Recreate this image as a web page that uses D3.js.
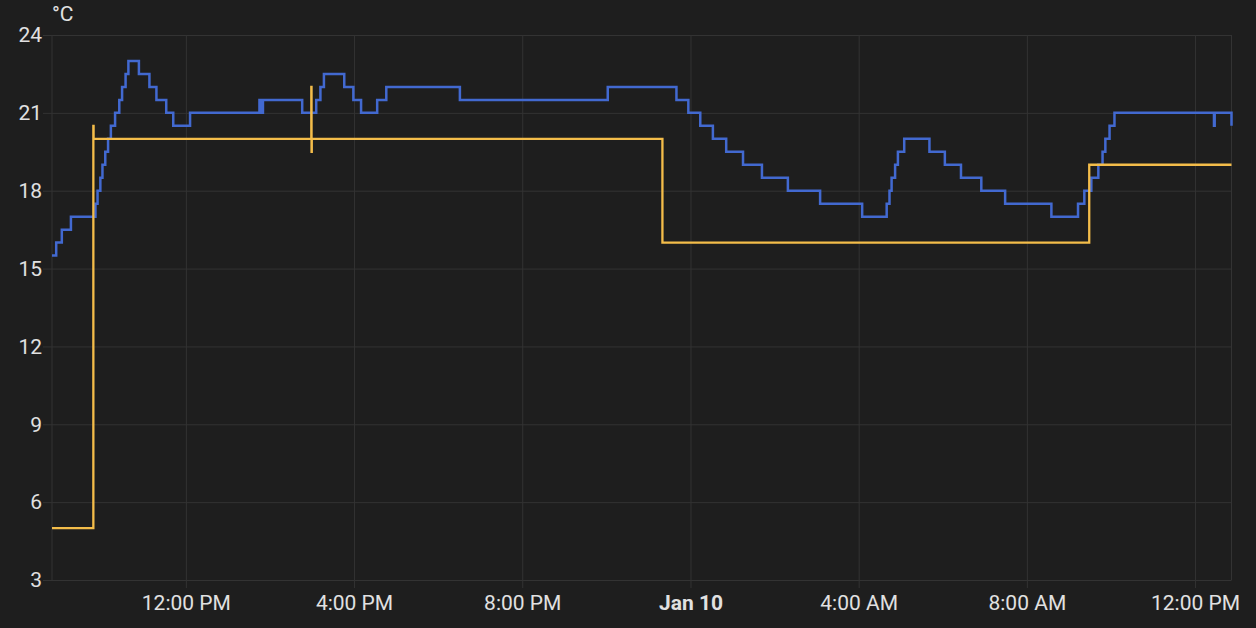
<!DOCTYPE html>
<html>
<head>
<meta charset="utf-8">
<script src="https://cdn.jsdelivr.net/npm/d3@7/dist/d3.min.js"></script>
<style>
  html, body { margin: 0; padding: 0; background: #1e1e1e; }
  svg { display: block; }
  text { font-family: Roboto, "Noto Sans", sans-serif; }
</style>
</head>
<body>
<svg id="chart" width="1256" height="628"></svg>
<script>
// ---- data ----
const unitLabel = "°C";
const domainStart = "2024-01-09 08:49";
const domainEnd = "2024-01-10 12:52";
const yTicks = [3, 6, 9, 12, 15, 18, 21, 24];
const xTickTimes = ["2024-01-09 12:00", "2024-01-09 16:00", "2024-01-09 20:00",
  "2024-01-10 00:00", "2024-01-10 04:00", "2024-01-10 08:00", "2024-01-10 12:00"];

// current temperature (blue)
const currentTimes = [
  "2024-01-09 08:49", "2024-01-09 08:55", "2024-01-09 09:03", "2024-01-09 09:16",
  "2024-01-09 09:51", "2024-01-09 09:54", "2024-01-09 09:58", "2024-01-09 10:01",
  "2024-01-09 10:05", "2024-01-09 10:09", "2024-01-09 10:13", "2024-01-09 10:19",
  "2024-01-09 10:25", "2024-01-09 10:29", "2024-01-09 10:34", "2024-01-09 10:38",
  "2024-01-09 10:53", "2024-01-09 11:08", "2024-01-09 11:18", "2024-01-09 11:32",
  "2024-01-09 11:42", "2024-01-09 12:06", "2024-01-09 13:45", "2024-01-09 13:47",
  "2024-01-09 13:50", "2024-01-09 14:46", "2024-01-09 15:06", "2024-01-09 15:12",
  "2024-01-09 15:17", "2024-01-09 15:46", "2024-01-09 15:59", "2024-01-09 16:10",
  "2024-01-09 16:33", "2024-01-09 16:46", "2024-01-09 18:31", "2024-01-09 22:02",
  "2024-01-09 23:40", "2024-01-09 23:57", "2024-01-10 00:14", "2024-01-10 00:32",
  "2024-01-10 00:51", "2024-01-10 01:15", "2024-01-10 01:42", "2024-01-10 02:19",
  "2024-01-10 03:05", "2024-01-10 04:05", "2024-01-10 04:40", "2024-01-10 04:44",
  "2024-01-10 04:47", "2024-01-10 04:52", "2024-01-10 04:56", "2024-01-10 05:05",
  "2024-01-10 05:41", "2024-01-10 06:03", "2024-01-10 06:26", "2024-01-10 06:55",
  "2024-01-10 07:29", "2024-01-10 08:35", "2024-01-10 09:13", "2024-01-10 09:22",
  "2024-01-10 09:32", "2024-01-10 09:42", "2024-01-10 09:48", "2024-01-10 09:52",
  "2024-01-10 09:58", "2024-01-10 10:05", "2024-01-10 12:27", "2024-01-10 12:28",
  "2024-01-10 12:52"
];
const currentValues = [
  15.5, 16, 16.5, 17,
  17.5, 18, 18.5, 19,
  19.5, 20, 20.5, 21,
  21.5, 22, 22.5, 23,
  22.5, 22, 21.5, 21,
  20.5, 21, 21.5, 21,
  21.5, 21, 21.5, 22,
  22.5, 22, 21.5, 21,
  21.5, 22, 21.5, 22,
  21.5, 21, 20.5, 20,
  19.5, 19, 18.5, 18,
  17.5, 17, 17.5, 18,
  18.5, 19, 19.5, 20,
  19.5, 19, 18.5, 18,
  17.5, 17, 17.5, 18,
  18.5, 19, 19.5, 20,
  20.5, 21, 20.5, 21,
  20.5
];

// target temperature (yellow)
const targetTimes = [
  "2024-01-09 08:49", "2024-01-09 09:48:00", "2024-01-09 09:48:20",
  "2024-01-09 14:59:00", "2024-01-09 14:59:20", "2024-01-09 14:59:40",
  "2024-01-09 23:20", "2024-01-10 09:29", "2024-01-10 12:52"
];
const targetValues = [5, 20.5, 20, 22, 19.5, 20, 16, 19, 19];

// ---- chart ----
const parse = s => {
  const [d, t] = s.split(" ");
  const [Y, M, D] = d.split("-").map(Number);
  const [h, m, sec] = t.split(":").map(Number);
  return new Date(Y, M - 1, D, h, m, sec || 0);
};

const W = 1256, H = 628;
const pLeft = 52, pRight = 1231.5, pTop = 35, pBottom = 580;
const colors = { bg: "#1e1e1e", grid: "#333333", text: "#e1e1e1", blue: "#4269d0", yellow: "#f4bd4a" };
const fontSize = 21;

const svg = d3.select("#chart");
svg.append("rect").attr("width", W).attr("height", H).attr("fill", colors.bg);

const x = d3.scaleTime().domain([parse(domainStart), parse(domainEnd)]).range([pLeft, pRight]);
const y = d3.scaleLinear().domain([3, 24]).range([pBottom, pTop]);

// horizontal grid + y axis
const gy = svg.append("g").attr("transform", `translate(${pRight},0)`).call(
  d3.axisLeft(y).tickValues(yTicks).tickSize(pRight - pLeft + 9).tickPadding(1).tickFormat(d => d)
);
gy.select(".domain").remove();
gy.selectAll(".tick line").attr("stroke", colors.grid).attr("stroke-width", 1);
gy.selectAll(".tick text").attr("fill", colors.text).attr("font-size", fontSize)
  .attr("font-family", "Roboto, sans-serif");

// vertical grid + x axis
const xTicks = xTickTimes.map(parse);
const fmt = d => (d.getHours() === 0 && d.getMinutes() === 0) ? d3.timeFormat("%b %-d")(d) : d3.timeFormat("%-I:%M %p")(d);
const gx = svg.append("g").attr("transform", `translate(0,${pTop})`).call(
  d3.axisBottom(x).tickValues(xTicks).tickSize(pBottom - pTop + 8).tickPadding(7).tickFormat(fmt)
);
gx.select(".domain").remove();
gx.selectAll(".tick line").attr("stroke", colors.grid).attr("stroke-width", 1);
gx.selectAll(".tick text").attr("fill", colors.text).attr("font-size", fontSize).attr("font-family", "Roboto, sans-serif")
  .attr("font-weight", d => (d.getHours() === 0 ? 700 : 400));

// plot border verticals
svg.append("g").selectAll("line").data(x.domain()).join("line")
  .attr("x1", d => x(d)).attr("x2", d => x(d))
  .attr("y1", pTop).attr("y2", pBottom)
  .attr("stroke", colors.grid).attr("stroke-width", 1);

// unit label
svg.append("text").attr("x", pLeft).attr("y", 21).attr("fill", colors.text)
  .attr("font-size", fontSize).attr("font-family", "Roboto, sans-serif").text(unitLabel);

// lines
const line = d3.line().x(d => x(d.t)).y(d => y(d.v)).curve(d3.curveStepAfter);
const current = currentTimes.map((t, i) => ({ t: parse(t), v: currentValues[i] }));
const target = targetTimes.map((t, i) => ({ t: parse(t), v: targetValues[i] }));

svg.append("path").datum(current).attr("d", line).attr("fill", "none")
  .attr("stroke", colors.blue).attr("stroke-width", 2.5).attr("stroke-linejoin", "miter");
svg.append("path").datum(target).attr("d", line).attr("fill", "none")
  .attr("stroke", colors.yellow).attr("stroke-width", 2.3).attr("stroke-linejoin", "miter");
</script>
</body>
</html>
